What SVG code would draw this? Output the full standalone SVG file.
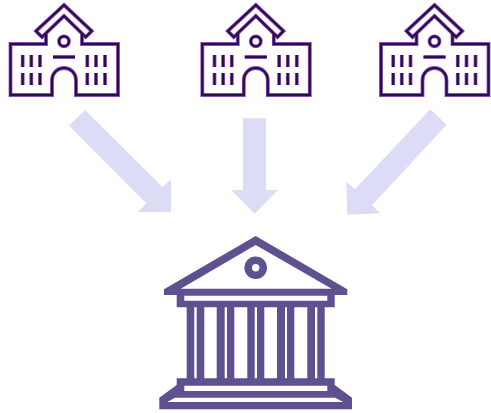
<svg xmlns="http://www.w3.org/2000/svg" width="491" height="413" viewBox="0 0 491 413">
<style>
.arrow{fill:#dcdcf6}
.bank{fill:#5f5190;fill-rule:evenodd}
.halo{fill:none;stroke:#8a4fb5;stroke-width:3.8}
.line{fill:none;stroke:#2b0b4f;stroke-width:2.2}
</style>
<defs>
<g id="shape">
<path d="M46,34V44H10.5V95H52V80a12,12 0 0 1 24,0V95H118V44H82V34"/>
<path d="M64,5L91.7,31L85.7,37L64,16L42,37L36,31Z"/>
<circle cx="64" cy="41.3" r="5"/>
<path d="M53,57H75M22.7,55V67M31.3,55V67M40,55V67M87.3,55V67M96,55V67M105,55V67M22.7,73V85M31.3,73V85M40,73V85M87.3,73V85M96,73V85M105,73V85"/>
</g>
<g id="school"><use href="#shape" class="halo"/><use href="#shape" class="line"/></g>
</defs>
<g id="connectors">
<polygon class="arrow" points="85,110 162.7,187.3 171,179 171,212 138,212 146.3,203.3 69,125.7"/>
<polygon class="arrow" points="243,118.3 266,118.3 266,190 278,190 254.7,213.7 231.3,190 243,190"/>
<polygon class="arrow" points="430.3,109.3 446.7,124.7 372,205.3 380.3,213.3 347.3,214.7 346.3,181.7 355,189.3"/>
</g>
<g id="school-1"><use href="#school"/></g>
<g id="school-2"><use href="#school" x="191.8"/></g>
<g id="school-3"><use href="#school" x="370.5"/></g>
<g id="bank">
<path class="bank" d="M255.7,236L347.3,289.3V295H334.7V307.3H176.7V295H164V289.3ZM255.7,245L180.7,288.7H331.7ZM184.3,295.7V300.7H327.3V295.7Z"/>
<circle cx="255.7" cy="267.7" r="7.5" fill="none" stroke="#5f5190" stroke-width="7.6"/>
<path class="bank" d="M186.7,307h7.6v72h-7.6ZM196.7,307h7.6v72h-7.6ZM216.7,307h8v72h-8ZM227,307h7.3v72H227ZM247.3,307h7.4v72h-7.4ZM257,307h7.3v72H257ZM277,307h8v72h-8ZM287,307h7.3v72H287ZM307.3,307h7.7v72h-7.7ZM317.3,307h7.4v72h-7.4Z"/>
<path class="bank" d="M176.7,378.3H334.7V385L352,397.7V409.3H159.3V397.7L176.7,385ZM184.3,385.7V391H327.3V385.7ZM175,397.7L167.3,402H343.3L335,397.7Z"/>
</g>
</svg>
